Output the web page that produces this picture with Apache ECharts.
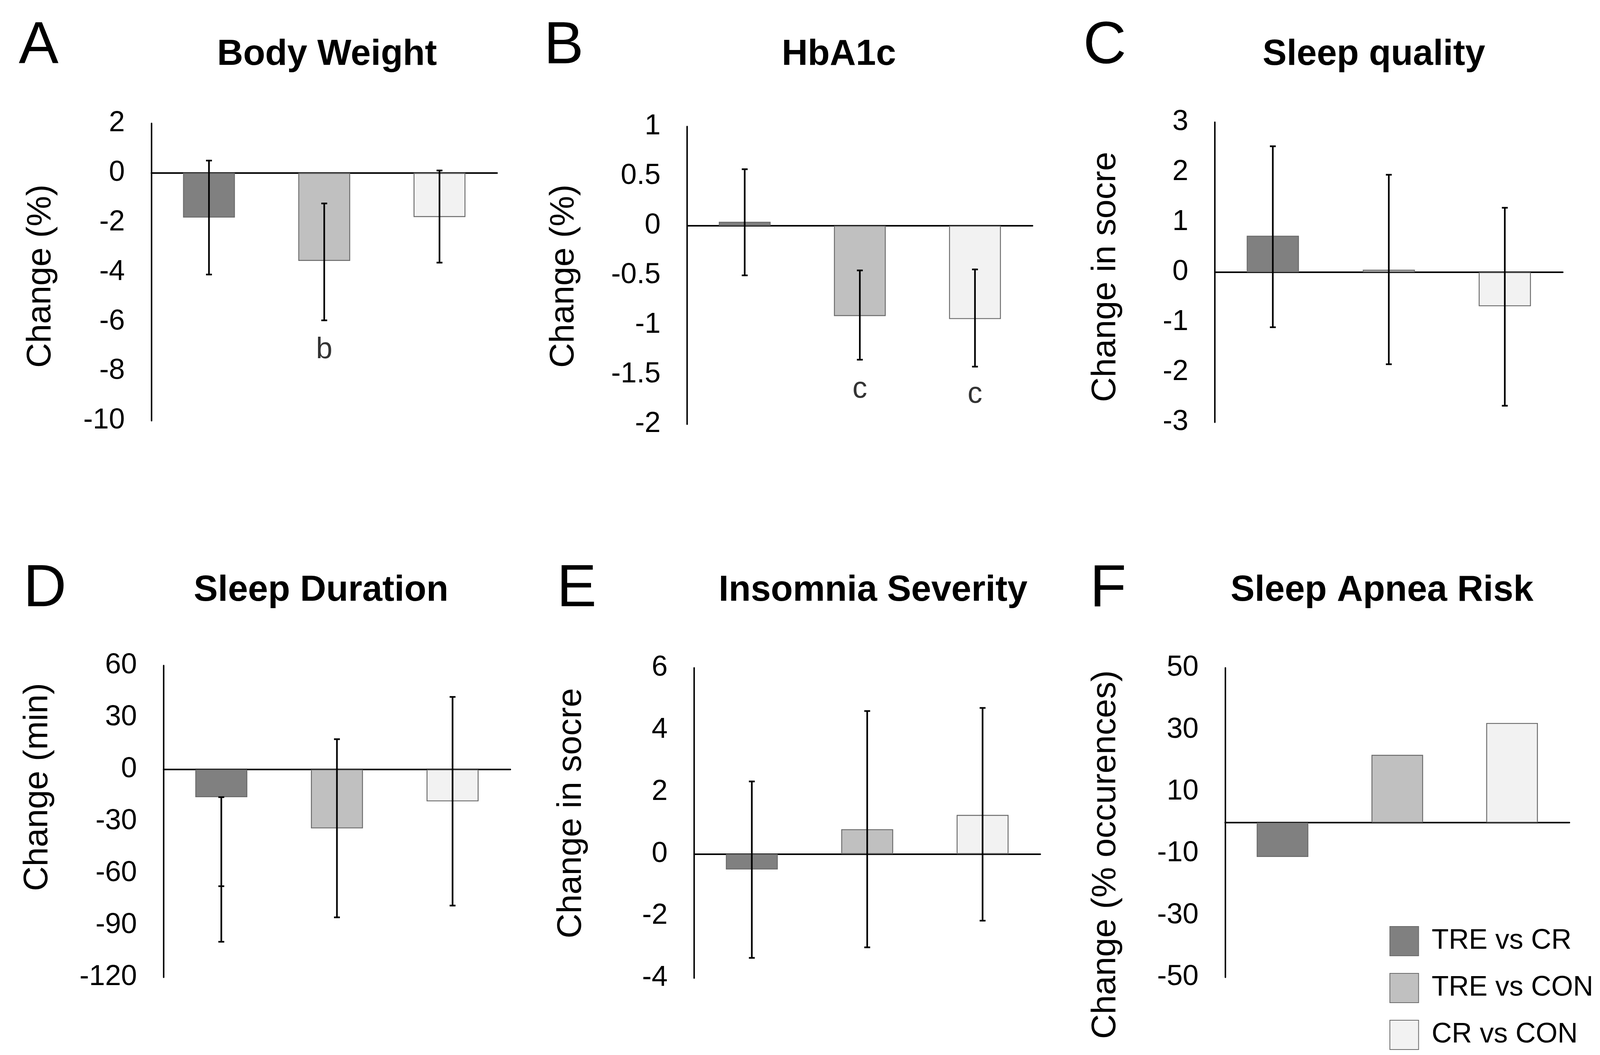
<!DOCTYPE html>
<html>
<head>
<meta charset="utf-8">
<script src="https://cdn.jsdelivr.net/npm/echarts@6/dist/echarts.min.js"></script>
<style>
html, body { margin: 0; padding: 0; background: #fff; overflow: hidden; }
#main { width: 100vw; height: 100vh; }
</style>
</head>
<body>
<div id="main"></div>
<script>
var groups = ['TRE vs CR', 'TRE vs CON', 'CR vs CON'];
var barColors = ['#808080', '#c0c0c0', '#f2f2f2'];

// A - body weight, % change
var weightMean = [-1.8, -3.55, -1.78];
var weightLow = [-4.1, -5.95, -3.62];
var weightHigh = [0.5, -1.23, 0.1];
var weightNote = ['', 'b', ''];
var weightNoteY = [null, -7.15, null];
// B - HbA1c, % change
var hba1cMean = [0.04, -0.91, -0.94];
var hba1cLow = [-0.5, -1.35, -1.42];
var hba1cHigh = [0.57, -0.45, -0.44];
var hba1cNote = ['', 'c', 'c'];
var hba1cNoteY = [null, -1.65, -1.7];
// C - sleep quality score
var qualityMean = [0.73, 0.05, -0.68];
var qualityLow = [-1.1, -1.84, -2.67];
var qualityHigh = [2.52, 1.95, 1.29];
// D - sleep duration, min (first bar only has the lower whisker, with an extra tick)
var durationMean = [-16, -34, -18.4];
var durationLow = [-99.5, -85.4, -78.6];
var durationHigh = [-16, 17.5, 41.9];
var durationMidCap = [-67.4, null, null];
// E - insomnia severity score
var insomniaMean = [-0.5, 0.8, 1.26];
var insomniaLow = [-3.35, -3.01, -2.15];
var insomniaHigh = [2.34, 4.61, 4.71];
// F - sleep apnea risk, % occurences
var apneaMean = [-11.1, 21.9, 32.2];
var apneaTicks = [-50, -30, -10, 10, 30, 50];

var FONT = '"Liberation Sans", Arial, sans-serif';

// layout is drawn for a 4345 x 2701 canvas and scaled to the real size
var dom = document.getElementById('main');
var sx = dom.clientWidth / 4345, sy = dom.clientHeight / 2701, sf = Math.min(sx, sy);
function X(v) { return v * sx; }
function Y(v) { return v * sy; }
function S(v) { return v * sf; }

var panels = [
    { letter: 'A', title: 'Body Weight', yName: 'Change (%)', rect: [411, 316, 939, 761],
      min: -10, max: 2, step: 2, mean: weightMean, low: weightLow, high: weightHigh,
      note: weightNote, noteY: weightNoteY, letterAt: [105, 120], titleAt: [888, 141], nameAt: [111, 707] },
    { letter: 'B', title: 'HbA1c', yName: 'Change (%)', rect: [1866, 324, 938, 762],
      min: -2, max: 1, step: 0.5, mean: hba1cMean, low: hba1cLow, high: hba1cHigh,
      note: hba1cNote, noteY: hba1cNoteY, letterAt: [1531, 120], titleAt: [2278, 141], nameAt: [1532, 707] },
    { letter: 'C', title: 'Sleep quality', yName: 'Change in socre', rect: [3299, 313, 945, 768],
      min: -3, max: 3, step: 1, mean: qualityMean, low: qualityLow, high: qualityHigh,
      letterAt: [3000, 120], titleAt: [3731, 141], nameAt: [3003, 709] },
    { letter: 'D', title: 'Sleep Duration', yName: 'Change (min)', rect: [444, 1704, 942, 798],
      min: -120, max: 60, step: 30, mean: durationMean, low: durationLow, high: durationHigh,
      midCap: durationMidCap, letterAt: [122, 1510], titleAt: [872, 1513], nameAt: [103, 2015] },
    { letter: 'E', title: 'Insomnia Severity', yName: 'Change in socre', rect: [1885, 1710, 940, 794],
      min: -4, max: 6, step: 2, mean: insomniaMean, low: insomniaLow, high: insomniaHigh,
      letterAt: [1566, 1510], titleAt: [2371, 1513], nameAt: [1552, 2082] },
    { letter: 'F', title: 'Sleep Apnea Risk', yName: 'Change (% occurences)', rect: [3327, 1710, 935, 792],
      min: -50, max: 50, step: 10, ticks: apneaTicks, mean: apneaMean,
      letterAt: [3009, 1510], titleAt: [3753, 1513], nameAt: [3003, 2188] }
];

var grids = [], xAxes = [], yAxes = [], series = [], graphics = [];

panels.forEach(function(p, i) {
    grids.push({ left: X(p.rect[0]), top: Y(p.rect[1]), width: X(p.rect[2]), height: Y(p.rect[3]) });
    xAxes.push({
        type: 'category', gridIndex: i, data: groups,
        axisLine: { onZero: true, lineStyle: { color: '#000', width: S(4) } },
        axisTick: { show: false }, axisLabel: { show: false }
    });
    yAxes.push({
        type: 'value', gridIndex: i, min: p.min, max: p.max, interval: p.step,
        axisLine: { show: true, onZero: false, lineStyle: { color: '#000', width: S(4) } },
        axisTick: { show: false }, splitLine: { show: false },
        axisLabel: {
            margin: X(72), fontSize: S(78), color: '#000', fontFamily: FONT,
            formatter: function(v) {
                if (p.ticks && p.ticks.indexOf(v) < 0) return '';
                return String(v);
            }
        }
    });

    groups.forEach(function(g, k) {
        var data = p.mean.map(function(v, j) { return j === k ? v : '-'; });
        series.push({
            type: 'bar', name: g, xAxisIndex: i, yAxisIndex: i, data: data,
            barWidth: '45%', barGap: '-100%',
            itemStyle: { color: barColors[k], borderColor: '#6a6a6a', borderWidth: S(2.5) }
        });
    });

    if (p.low) {
        var errData = p.low.map(function(lo, j) { return [j, lo, p.high[j]]; });
        series.push({
            type: 'custom', xAxisIndex: i, yAxisIndex: i, data: errData, z: 5,
            renderItem: function(params, api) {
                var j = api.value(0);
                var a = api.coord([j, api.value(1)]);
                var b = api.coord([j, api.value(2)]);
                var cap = S(8);
                var ls = { stroke: '#000', lineWidth: S(4.5) };
                var kids = [
                    { type: 'line', shape: { x1: a[0], y1: a[1], x2: b[0], y2: b[1] }, style: ls },
                    { type: 'line', shape: { x1: a[0] - cap, y1: a[1], x2: a[0] + cap, y2: a[1] }, style: ls },
                    { type: 'line', shape: { x1: b[0] - cap, y1: b[1], x2: b[0] + cap, y2: b[1] }, style: ls }
                ];
                if (p.midCap && p.midCap[j] != null) {
                    var m = api.coord([j, p.midCap[j]]);
                    kids.push({ type: 'line', shape: { x1: m[0] - cap, y1: m[1], x2: m[0] + cap, y2: m[1] }, style: ls });
                }
                return { type: 'group', children: kids };
            }
        });
    }

    if (p.note) {
        var noteData = [];
        p.note.forEach(function(t, j) {
            if (t) noteData.push({ name: t, value: [j, p.noteY[j]] });
        });
        series.push({
            type: 'scatter', xAxisIndex: i, yAxisIndex: i, data: noteData, symbolSize: 0, z: 6,
            label: { show: true, position: 'inside', formatter: '{b}', fontSize: S(80), color: '#000', fontFamily: FONT }
        });
    }

    graphics.push({
        type: 'text', x: X(p.letterAt[0]), y: Y(p.letterAt[1]),
        style: { text: p.letter, fontSize: S(162), fontFamily: FONT, fill: '#000', align: 'center', verticalAlign: 'middle' }
    });
    graphics.push({
        type: 'text', x: X(p.titleAt[0]), y: Y(p.titleAt[1]),
        style: { text: p.title, fontSize: S(98), fontWeight: 'bold', fontFamily: FONT, fill: '#000', align: 'center', verticalAlign: 'middle' }
    });
    // rotated names run along y, so they follow the vertical scale
    graphics.push({
        type: 'text', x: X(p.nameAt[0]), y: Y(p.nameAt[1]), rotation: Math.PI / 2,
        style: { text: p.yName, fontSize: 88 * sy, fontFamily: FONT, fill: '#000', align: 'center', verticalAlign: 'middle' }
    });
});

var chart = echarts.init(dom);
var option = {
    animation: false,
    backgroundColor: '#fff',
    grid: grids,
    xAxis: xAxes,
    yAxis: yAxes,
    series: series,
    graphic: graphics,
    legend: {
        data: groups, orient: 'vertical', left: X(3768), top: Y(2366),
        itemWidth: S(78), itemHeight: Y(75), itemGap: Y(43), icon: 'rect',
        selectedMode: false,
        textStyle: { fontSize: S(76), color: '#000', fontFamily: FONT, lineHeight: Y(75), padding: [0, 0, 0, X(30)] }
    }
};
chart.setOption(option);
window.addEventListener('resize', function() { chart.resize(); });
</script>
</body>
</html>
